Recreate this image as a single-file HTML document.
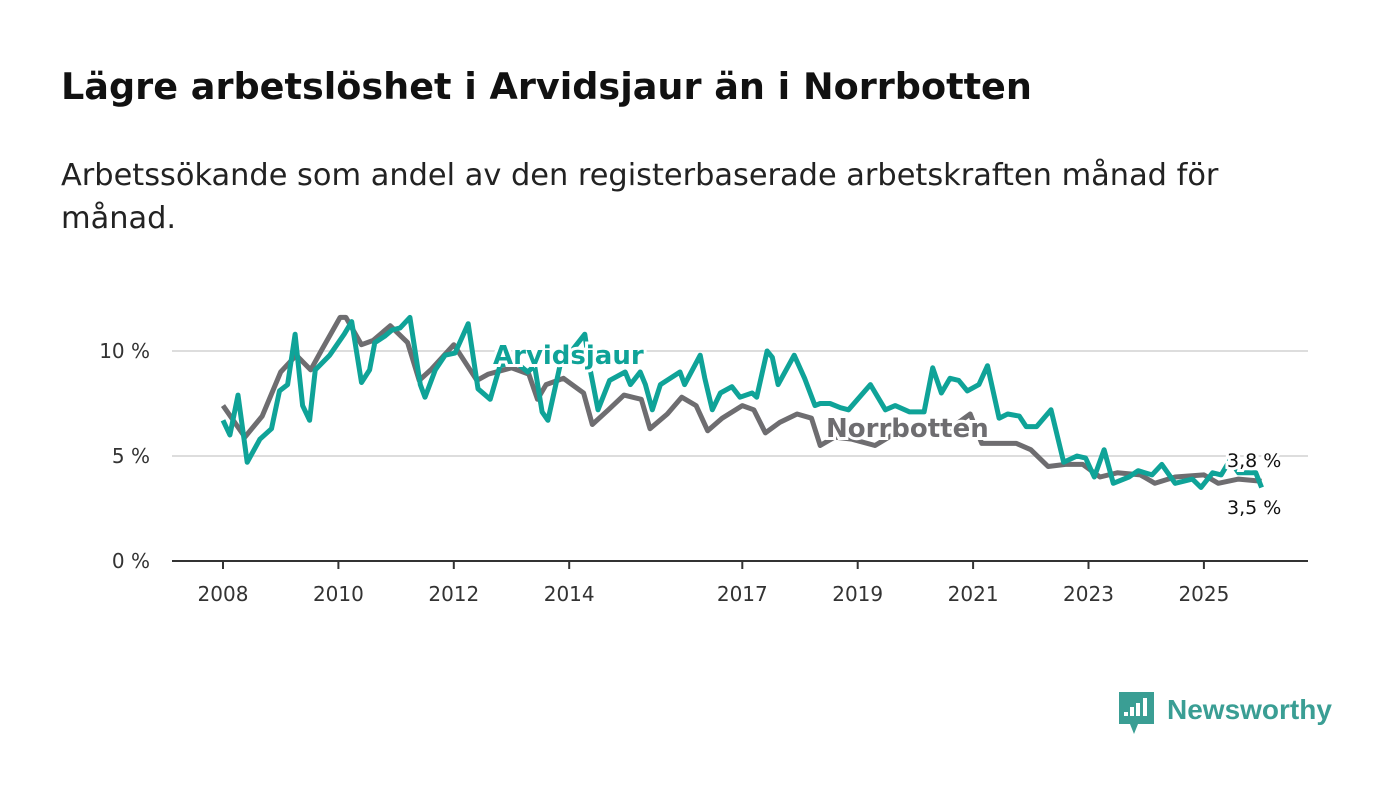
<!DOCTYPE html>
<html><head><meta charset="utf-8"><style>
body{margin:0;background:#fff;width:1400px;height:794px;overflow:hidden;font-family:"DejaVu Sans","Liberation Sans",sans-serif}
h1{position:absolute;left:61px;top:65px;margin:0;font-size:36.6px;font-weight:bold;color:#111;white-space:nowrap}
p{position:absolute;left:61px;top:154px;margin:0;font-size:30.4px;line-height:43px;color:#222;width:1300px}
svg{position:absolute;left:0;top:0}
</style></head><body>
<h1>Lägre arbetslöshet i Arvidsjaur än i Norrbotten</h1>
<p>Arbetssökande som andel av den registerbaserade arbetskraften månad för<br>månad.</p>
<svg id="c" width="1400" height="794"></svg>
<script>
const nbYears=[2008.0,2008.38,2008.68,2009.0,2009.27,2009.52,2009.7,2010.03,2010.13,2010.4,2010.6,2010.9,2011.2,2011.4,2011.6,2012.0,2012.4,2012.6,2013.0,2013.3,2013.45,2013.6,2013.9,2014.25,2014.4,2014.68,2014.95,2015.25,2015.4,2015.7,2015.95,2016.2,2016.4,2016.65,2017.0,2017.2,2017.4,2017.65,2017.95,2018.2,2018.35,2018.6,2018.9,2019.3,2019.6,2020.0,2020.4,2020.75,2020.95,2021.15,2021.5,2021.75,2022.0,2022.3,2022.6,2022.9,2023.2,2023.5,2023.9,2024.15,2024.5,2025.0,2025.25,2025.6,2026.0];
const nbValues=[7.4,5.9,6.9,9.0,9.8,9.1,10.0,11.6,11.6,10.3,10.5,11.2,10.4,8.6,9.1,10.3,8.6,8.9,9.2,8.9,7.7,8.4,8.7,8.0,6.5,7.2,7.9,7.7,6.3,7.0,7.8,7.4,6.2,6.8,7.4,7.2,6.1,6.6,7.0,6.8,5.5,5.9,5.8,5.5,6.0,6.3,6.0,6.6,7.0,5.6,5.6,5.6,5.3,4.5,4.6,4.6,4.0,4.2,4.1,3.7,4.0,4.1,3.7,3.9,3.8];
const arYears=[2008.0,2008.12,2008.26,2008.42,2008.64,2008.84,2008.98,2009.12,2009.25,2009.38,2009.5,2009.6,2009.85,2010.1,2010.23,2010.4,2010.54,2010.63,2010.8,2010.93,2011.07,2011.24,2011.42,2011.5,2011.68,2011.85,2012.02,2012.25,2012.42,2012.63,2012.8,2013.06,2013.28,2013.4,2013.53,2013.63,2013.84,2014.27,2014.35,2014.5,2014.7,2014.97,2015.06,2015.23,2015.32,2015.44,2015.58,2015.92,2016.0,2016.27,2016.35,2016.48,2016.62,2016.82,2016.96,2017.17,2017.25,2017.43,2017.52,2017.62,2017.9,2018.08,2018.26,2018.35,2018.52,2018.7,2018.84,2019.22,2019.48,2019.65,2019.9,2020.15,2020.3,2020.45,2020.6,2020.75,2020.9,2021.1,2021.25,2021.45,2021.6,2021.8,2021.92,2022.1,2022.35,2022.57,2022.8,2022.95,2023.1,2023.27,2023.43,2023.7,2023.86,2024.1,2024.27,2024.5,2024.8,2024.95,2025.15,2025.3,2025.45,2025.6,2025.9,2026.0];
const arValues=[6.7,6.0,7.9,4.7,5.8,6.3,8.1,8.4,10.8,7.4,6.7,9.1,9.8,10.8,11.4,8.5,9.1,10.4,10.7,11.0,11.1,11.6,8.4,7.8,9.1,9.8,9.9,11.3,8.2,7.7,9.3,9.5,9.0,9.3,7.1,6.7,9.3,10.8,9.3,7.2,8.6,9.0,8.4,9.0,8.4,7.2,8.4,9.0,8.4,9.8,8.7,7.2,8.0,8.3,7.8,8.0,7.8,10.0,9.7,8.4,9.8,8.7,7.4,7.5,7.5,7.3,7.2,8.4,7.2,7.4,7.1,7.1,9.2,8.0,8.7,8.6,8.1,8.4,9.3,6.8,7.0,6.9,6.4,6.4,7.2,4.7,5.0,4.9,4.0,5.3,3.7,4.0,4.3,4.1,4.6,3.7,3.9,3.5,4.2,4.1,4.8,4.2,4.2,3.5];
const xTicks=[2008,2010,2012,2014,2017,2019,2021,2023,2025];
const yTicks=[0,5,10];
const yTickLabels=["0 %","5 %","10 %"];
const endLabels=["3,8 %","3,5 %"];

const NS="http://www.w3.org/2000/svg",svg=document.getElementById('c');
const X=y=>223+(y-2008)*57.7, Y=v=>561-v*21;
function el(t,a,p){const e=document.createElementNS(NS,t);for(const k in a)e.setAttribute(k,a[k]);(p||svg).appendChild(e);return e;}
yTicks.forEach((t,i)=>{
  if(t>0){const g=el('line',{x1:172,x2:1308,y1:Y(t),y2:Y(t),stroke:'#ddd','stroke-width':2});
  
  }
  const l=el('text',{x:150,y:Y(t)+7,'text-anchor':'end','font-size':20,fill:'#333'});l.textContent=yTickLabels[i];
  
  
});
const ax=el('line',{x1:172,x2:1308,y1:561,y2:561,stroke:'#333','stroke-width':2});


xTicks.forEach(t=>{
  el('line',{x1:X(t),x2:X(t),y1:561,y2:569,stroke:'#333','stroke-width':2});
  const l=el('text',{x:X(t),y:601,'text-anchor':'middle','font-size':20,fill:'#333'});l.textContent=t;
  
  
});
function line(xs,vs,c,name){const d=xs.map((x,i)=>(i?'L':'M')+X(x).toFixed(1)+','+Y(vs[i]).toFixed(1)).join('');
  const p=el('path',{d,fill:'none',stroke:c,'stroke-width':5,'stroke-linejoin':'round'});
  
  }
line(nbYears,nbValues,'#6e6d70','norrbotten-line');
line(arYears,arValues,'#0fa398','arvidsjaur-line');
function lab(x,y,t,c,name,sz,w){const e=el('text',{x,y,'font-size':sz,'font-weight':w,fill:c,stroke:'#fff','stroke-width':6,'paint-order':'stroke'});e.textContent=t;
  
  }
lab(493,364,'Arvidsjaur','#0fa398','arvidsjaur-label',26,'bold');
lab(826,437,'Norrbotten','#6e6d70','norrbotten-label',26,'bold');
lab(1227,467,endLabels[0],'#111','norrbotten-end-value',19,'normal');
lab(1227,514,endLabels[1],'#111','arvidsjaur-end-value',19,'normal');
const g=el('g',{});


el('path',{d:'M1119,692h35v32h-16l-4,10l-4,-10h-11z',fill:'#3a9e94'},g);
[[1124,712,4],[1130,707,9],[1136,703,13],[1143,698,18]].forEach(r=>el('rect',{x:r[0],y:r[1],width:4,height:r[2],fill:'#fff'},g));
const t=el('text',{x:1167,y:719,'font-size':28,'font-weight':'bold',fill:'#3a9e94','font-family':'Liberation Sans'},g);t.textContent='Newsworthy';
</script>
</body></html>
